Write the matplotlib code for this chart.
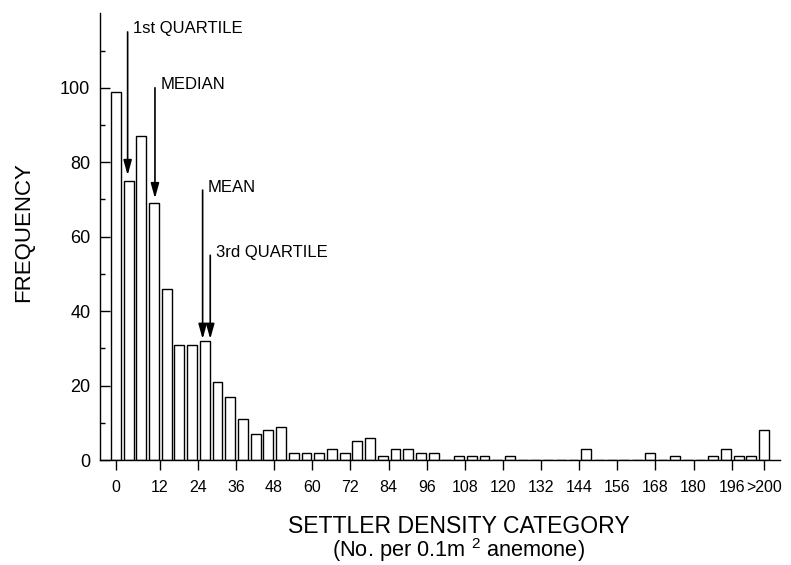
import matplotlib
matplotlib.use("Agg")
import matplotlib.pyplot as plt
import matplotlib.transforms as mtransforms
import numpy as np

plt.rcParams['font.family'] = ['Liberation Sans', 'DejaVu Sans']
plt.rcParams['mathtext.fontset'] = 'custom'
plt.rcParams['mathtext.rm'] = 'Liberation Sans'

# settler density categories (start of each 4-wide bin); last one is ">200"
categories = list(range(0, 204, 4)) + [204]
frequency = [99, 75, 87, 69, 46, 31, 31, 32, 21, 17, 11, 7, 8, 9,
             2, 2, 2, 3, 2, 5, 6, 1, 3, 3, 2, 2, 0, 1, 1, 1, 0, 1,
             0, 0, 0, 0, 0, 3, 0, 0, 0, 0, 2, 0, 1, 0, 0, 1, 3, 1, 1, 8]

tick_values = [0, 12, 24, 36, 48, 60, 72, 84, 96, 108, 120, 132, 144, 156, 168, 180, 192]
tick_labels = ['0', '12', '24', '36', '48', '60', '72', '84', '96', '108', '120',
               '132', '144', '156', '168', '180', '196', '>200']

# (label, x, arrow top, arrow tip)
markers = [('1st QUARTILE', 3.7, 115, 76.5),
           ('MEDIAN', 12.3, 100, 70.3),
           ('MEAN', 27.3, 72.5, 32.5),
           ('3rd QUARTILE', 29.7, 55, 32.5)]

fig = plt.figure(figsize=(7.91, 5.65), dpi=100)
ax = fig.add_axes([0.1264, 0.1858, 0.8597, 0.7906])

ax.bar(categories, frequency, width=3.1, color='white', edgecolor='black',
       linewidth=1.0, zorder=2)

ax.set_xlim(-5, 209)
ax.set_ylim(0, 120)

# ticks sit a bit right of the bin starts in the original
tpos = [0] + [v + 1.8 for v in tick_values[1:]] + [categories[-1]]
ax.set_xticks(tpos)
ax.set_xticklabels(tick_labels, fontsize=11.5)
# nudge ">200" to the right like the original
last = ax.get_xticklabels()[-1]
last.set_transform(last.get_transform() +
                   mtransforms.ScaledTranslation(6 / 100, 0, fig.dpi_scale_trans))

ax.set_yticks(np.arange(0, 101, 20))
ax.set_yticks(np.arange(10, 111, 20), minor=True)
ax.tick_params(axis='y', direction='in', length=7, width=1, labelsize=13, pad=7)
ax.tick_params(axis='y', which='minor', direction='in', length=3.5, width=1)
ax.tick_params(axis='x', direction='out', length=7, width=1, pad=7.5)

for s in ['top', 'right']:
    ax.spines[s].set_visible(False)
for s in ['left', 'bottom']:
    ax.spines[s].set_linewidth(1.0)

for label, x, top, tip in markers:
    ax.annotate('', xy=(x, tip), xytext=(x, top),
                arrowprops=dict(arrowstyle='-|>,head_length=0.9,head_width=0.25',
                                color='black', lw=1.2, shrinkA=0, shrinkB=0))
    ax.text(x + 1.7, top + 0.8, label, fontsize=12, va='center', ha='left')

fig.text(0.0297, 0.5885, 'FREQUENCY', fontsize=16, rotation=90,
         ha='center', va='center')
fig.text(0.580, 0.0565, 'SETTLER DENSITY CATEGORY', fontsize=16.6,
         ha='center', va='baseline')
fig.text(0.580, 0.0145, '(No. per 0.1m $^2$ anemone)', fontsize=15.7,
         ha='center', va='baseline')

fig.savefig('out.png', dpi=100)
